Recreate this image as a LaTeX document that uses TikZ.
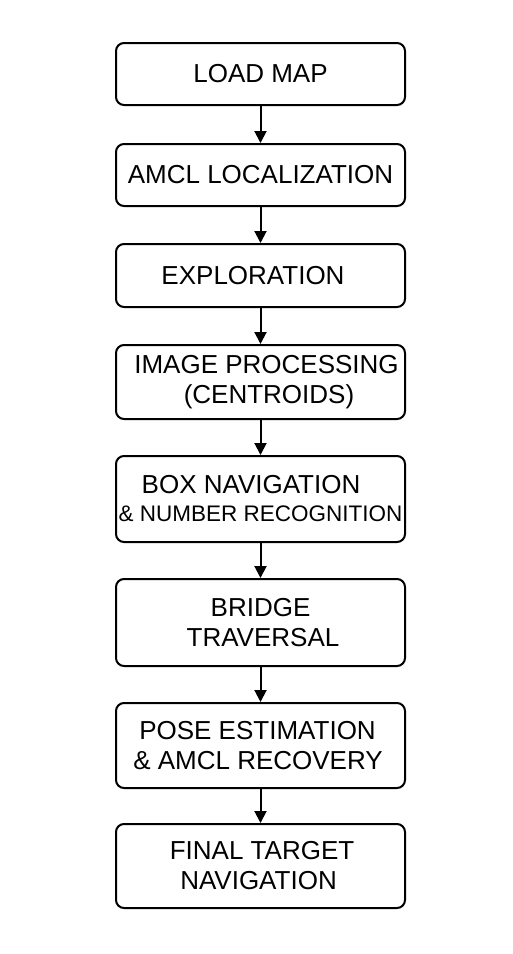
\documentclass[tikz,border=0pt]{standalone}
\usepackage{fontspec}
\setmainfont{Liberation Sans}
\usetikzlibrary{arrows.meta}
\begin{document}
\begin{tikzpicture}[x=1pt,y=-1pt,
  stepbox/.style={draw=black, line width=2pt, rounded corners=8pt,
    minimum width=289pt, inner sep=0pt, align=center,
    font=\fontsize{26}{30}\selectfont},
  flow/.style={-{Triangle[length=12pt,width=12pt]}, line width=2pt}]
\fill[white] (0,0) rectangle (512,954);
\node[stepbox, minimum height=62pt] (load) at (260.5,74) {LOAD MAP};
\node[stepbox, minimum height=62pt] (amcl) at (260.5,175) {AMCL LOCALIZATION};
\node[stepbox, minimum height=63pt] (expl) at (260.5,275.5) {EXPLORATION\hspace*{15pt}};
\node[stepbox, minimum height=74pt] (img) at (260.5,382) {\hspace*{12pt}IMAGE PROCESSING\\\hspace*{17pt}(CENTROIDS)};
\node[stepbox, minimum height=86pt] (box) at (260.5,499) {BOX NAVIGATION\hspace*{19pt}\\[-2pt]{\fontsize{22.5}{26}\selectfont \& NUMBER RECOGNITION}};
\node[stepbox, minimum height=87pt] (bridge) at (260.5,622.5) {BRIDGE\\\hspace*{5pt}TRAVERSAL};
\node[stepbox, minimum height=85pt] (pose) at (260.5,745.5) {POSE ESTIMATION\hspace*{6pt}\\\& AMCL RECOVERY\hspace*{5pt}};
\node[stepbox, minimum height=84pt] (final) at (260.5,866) {\hspace*{3pt}FINAL TARGET\\NAVIGATION\hspace*{4pt}};
\draw[flow] (load) -- (amcl);
\draw[flow] (amcl) -- (expl);
\draw[flow] (expl) -- (img);
\draw[flow] (img) -- (box);
\draw[flow] (box) -- (bridge);
\draw[flow] (bridge) -- (pose);
\draw[flow] (pose) -- (final);
\end{tikzpicture}
\end{document}
